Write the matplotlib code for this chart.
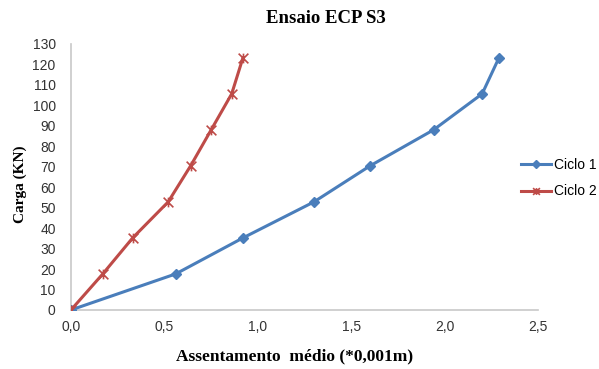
import matplotlib.pyplot as plt
from matplotlib.path import Path

# carga aplicada (kN) e assentamento medio (*0,001 m) por ciclo
carga = [0, 17.6, 35.2, 52.8, 70.4, 88.0, 105.6, 123.2]
assent_ciclo1 = [0, 0.56, 0.92, 1.30, 1.60, 1.94, 2.20, 2.29]
assent_ciclo2 = [0, 0.17, 0.33, 0.52, 0.64, 0.75, 0.86, 0.92]
xticks = [0, 0.5, 1.0, 1.5, 2.0, 2.5]
yticks = list(range(0, 131, 10))

# marcador "estrela": um x com um traco vertical
estrela = Path([(-1, -1), (1, 1), (-1, 1), (1, -1), (0, -1), (0, 1)],
               [Path.MOVETO, Path.LINETO, Path.MOVETO, Path.LINETO,
                Path.MOVETO, Path.LINETO])

fig = plt.figure(figsize=(5.99, 3.69), dpi=100)
ax = fig.add_axes([0.1185, 0.16, 0.78, 0.721])

ax.plot(assent_ciclo1, carga, color='#4a7ebb', lw=2.2, marker='D', ms=5.5,
        label='Ciclo 1', zorder=3)
ax.plot(assent_ciclo2, carga, color='#be4b48', lw=2.2, marker=estrela, ms=7,
        mew=1.2, mfc='none', label='Ciclo 2', zorder=3)

ax.set_xlim(0, 2.5)
ax.set_ylim(0, 130)
ax.set_xticks(xticks)
ax.set_xticklabels([f'{v:.1f}'.replace('.', ',') for v in xticks])
ax.set_yticks(yticks)
ax.tick_params(length=0, labelsize=10, colors='#333333')
ax.tick_params(axis='y', pad=11)
ax.tick_params(axis='x', pad=7)
for lbl in ax.get_xticklabels() + ax.get_yticklabels():
    lbl.set_family('Liberation Sans')

for s in ['top', 'right']:
    ax.spines[s].set_visible(False)
for s in ['left', 'bottom']:
    ax.spines[s].set_color('#c8c8c8')
    ax.spines[s].set_linewidth(1.2)

serif = {'family': 'Liberation Serif', 'weight': 'bold', 'size': 11}
fig.text(0.544, 0.95, 'Ensaio ECP S3', ha='center', va='center',
         fontdict={**serif, 'size': 13.5})
fig.text(0.4925, 0.035, 'Assentamento  médio (*0,001m)', ha='center', va='center',
         fontdict={**serif, 'size': 12.5})
fig.text(0.034, 0.50, 'Carga (KN)', ha='center', va='center', rotation=90,
         fontdict=serif)

leg = fig.legend(loc='center left', bbox_to_anchor=(0.869, 0.517), frameon=False,
                 prop={'family': 'Liberation Sans', 'size': 10}, handlelength=2.2,
                 handletextpad=0.2, labelspacing=0.9, markerscale=0.7,
                 borderpad=0, borderaxespad=0)

fig.savefig('out.png', dpi=100)
